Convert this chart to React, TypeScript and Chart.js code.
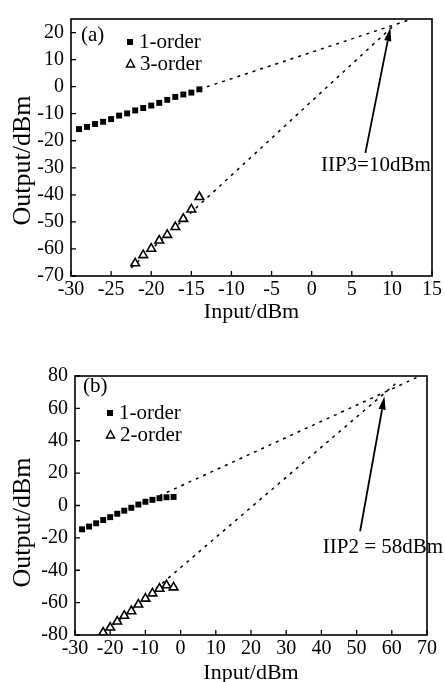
import React, { useEffect, useRef } from "react";
import { Chart, registerables } from "chart.js";

Chart.register(...registerables);

const FONT = "'Liberation Serif', 'Times New Roman', serif";

// ---------- Panel (a) ----------
const aOrder1X = [-29, -28, -27, -26, -25, -24, -23, -22, -21, -20, -19, -18, -17, -16, -15, -14];
const aOrder1Y = [-15.7, -14.9, -13.8, -13.0, -12.0, -10.7, -9.9, -8.8, -7.9, -7.0, -6.0, -4.9, -3.8, -2.9, -2.2, -1.0];
const aOrder3X = [-22, -21, -20, -19, -18, -17, -16, -15, -14];
const aOrder3Y = [-65.3, -62.3, -59.9, -56.9, -54.8, -51.9, -48.9, -45.4, -40.8];
const aFit1X = [-14, 12];
const aFit1Y = [-1, 24.5];
const aFit3X = [-22.5, 10];
const aFit3Y = [-67, 22];
const aXTicks = [-30, -25, -20, -15, -10, -5, 0, 5, 10, 15];
const aYTicks = [-70, -60, -50, -40, -30, -20, -10, 0, 10, 20];
const aArrowX = [6.7, 9.8];
const aArrowY = [-24.5, 21.7];
const aNoteXY = [8.0, -29.1];
const aNote = "IIP3=10dBm";
const aLegend = ["1-order", "3-order"];

// ---------- Panel (b) ----------
const bOrder1X = [-28, -26, -24, -22, -20, -18, -16, -14, -12, -10, -8, -6, -4, -2];
const bOrder1Y = [-14.7, -13.0, -11.0, -9.0, -7.2, -5.1, -3.2, -1.4, 0.6, 2.3, 3.5, 4.5, 5.1, 5.3];
const bOrder2X = [-22, -20, -18, -16, -14, -12, -10, -8, -6, -4, -2];
const bOrder2Y = [-78.5, -75.4, -71.7, -68.1, -65.3, -61.2, -57.5, -54.3, -51.4, -49.3, -50.6];
const bFit1X = [-6, 67];
const bFit1Y = [6, 79];
const bFit2X = [-22.5, 61];
const bFit2Y = [-80.2, 75.1];
const bXTicks = [-30, -20, -10, 0, 10, 20, 30, 40, 50, 60, 70];
const bYTicks = [-80, -60, -40, -20, 0, 20, 40, 60, 80];
const bArrowX = [51.0, 57.9];
const bArrowY = [-15.9, 67.3];
const bNoteXY = [57.5, -25.7];
const bNote = "IIP2 = 58dBm";
const bLegend = ["1-order", "2-order"];

const pts = (xs: number[], ys: number[]) => xs.map((v, i) => ({ x: v, y: ys[i] }));

type PanelCfg = {
  label: string;
  xMin: number; xMax: number; yMin: number; yMax: number;
  xTicks: number[]; yTicks: number[];
  sq: { x: number; y: number }[];
  tri: { x: number; y: number }[];
  fit1: { x: number; y: number }[];
  fitN: { x: number; y: number }[];
  arrowX: number[]; arrowY: number[];
  noteXY: number[]; note: string;
  legend: string[];
  height: number;
  pad: { top: number; right: number };
  yWidth: number; xHeight: number;
  labelOff: [number, number];
  legendOff: [number, number];
  yTitleShift: number;
  xTitleDy: number;
  xTickPad: number;
};

function makeDecor(c: PanelCfg) {
  return {
    id: "decor",
    afterDraw(chart: any) {
      const ctx = chart.ctx as CanvasRenderingContext2D;
      const a = chart.chartArea;
      const xs = chart.scales.x;
      const ys = chart.scales.y;
      ctx.save();
      ctx.strokeStyle = "#000";
      ctx.fillStyle = "#000";
      ctx.lineWidth = 1.6;
      ctx.setLineDash([]);
      ctx.strokeRect(a.left, a.top, a.right - a.left, a.bottom - a.top);
      ctx.lineWidth = 1.3;
      ctx.beginPath();
      c.xTicks.forEach((v) => {
        const px = xs.getPixelForValue(v);
        ctx.moveTo(px, a.bottom);
        ctx.lineTo(px, a.bottom - 5);
      });
      c.yTicks.forEach((v) => {
        const py = ys.getPixelForValue(v);
        ctx.moveTo(a.left, py);
        ctx.lineTo(a.left + 5, py);
      });
      ctx.stroke();

      // panel label
      ctx.font = `21px ${FONT}`;
      ctx.textAlign = "left";
      ctx.textBaseline = "middle";
      ctx.fillText(c.label, a.left + c.labelOff[0], a.top + c.labelOff[1]);

      // legend
      const lx = a.left + c.legendOff[0];
      const ly = a.top + c.legendOff[1];
      ctx.fillRect(lx - 3, ly - 3, 6, 6);
      ctx.fillText(c.legend[0], lx + 9, ly);
      const ty = ly + 22;
      ctx.lineWidth = 1.5;
      ctx.beginPath();
      ctx.moveTo(lx + 0.5, ty - 4.5);
      ctx.lineTo(lx + 4.5, ty + 3);
      ctx.lineTo(lx - 3.5, ty + 3);
      ctx.closePath();
      ctx.stroke();
      ctx.fillText(c.legend[1], lx + 10, ty);

      // annotation text
      ctx.textAlign = "center";
      ctx.fillText(c.note, xs.getPixelForValue(c.noteXY[0]), ys.getPixelForValue(c.noteXY[1]));

      // arrow
      const x0 = xs.getPixelForValue(c.arrowX[0]);
      const y0 = ys.getPixelForValue(c.arrowY[0]);
      const x1 = xs.getPixelForValue(c.arrowX[1]);
      const y1 = ys.getPixelForValue(c.arrowY[1]);
      const ang = Math.atan2(y1 - y0, x1 - x0);
      const hl = 13, hw = 3.6;
      const bx = x1 - hl * Math.cos(ang);
      const by = y1 - hl * Math.sin(ang);
      ctx.lineWidth = 1.8;
      ctx.beginPath();
      ctx.moveTo(x0, y0);
      ctx.lineTo(bx, by);
      ctx.stroke();
      ctx.beginPath();
      ctx.moveTo(x1, y1);
      ctx.lineTo(bx + hw * Math.sin(ang), by - hw * Math.cos(ang));
      ctx.lineTo(bx - hw * Math.sin(ang), by + hw * Math.cos(ang));
      ctx.closePath();
      ctx.fill();

      // axis titles
      ctx.font = `22px ${FONT}`;
      ctx.textAlign = "center";
      ctx.textBaseline = "middle";
      ctx.fillText("Input/dBm", (a.left + a.right) / 2, a.bottom + c.xTitleDy);
      ctx.save();
      ctx.font = `26px ${FONT}`;
      ctx.translate(23, (a.top + a.bottom) / 2 + c.yTitleShift);
      ctx.rotate(-Math.PI / 2);
      ctx.fillText("Output/dBm", 0, 0);
      ctx.restore();
      ctx.restore();
    },
  };
}

function Panel({ c }: { c: PanelCfg }) {
  const ref = useRef<HTMLCanvasElement>(null);
  useEffect(() => {
    if (!ref.current) return;
    const chart = new Chart(ref.current, {
      type: "scatter",
      data: {
        datasets: [
          {
            data: c.sq,
            pointStyle: "rect",
            pointRadius: 4.2,
            backgroundColor: "#000",
            borderColor: "#000",
            borderWidth: 0,
            showLine: false,
          },
          {
            data: c.tri,
            pointStyle: "triangle",
            pointRadius: 5,
            backgroundColor: "#fff",
            borderColor: "#000",
            borderWidth: 1.6,
            showLine: false,
          },
          {
            data: c.fit1,
            showLine: true,
            pointRadius: 0,
            borderColor: "#000",
            borderWidth: 1.5,
            borderDash: [3, 5],
          },
          {
            data: c.fitN,
            showLine: true,
            pointRadius: 0,
            borderColor: "#000",
            borderWidth: 1.5,
            borderDash: [3, 5],
          },
        ],
      } as any,
      options: {
        animation: false,
        responsive: false,
        events: [],
        layout: { padding: { top: c.pad.top, right: c.pad.right, left: 0, bottom: 0 } },
        plugins: { legend: { display: false }, tooltip: { enabled: false } },
        scales: {
          x: {
            type: "linear",
            min: c.xMin,
            max: c.xMax,
            afterBuildTicks: (s: any) => {
              s.ticks = c.xTicks.map((v) => ({ value: v }));
            },
            afterFit: (s: any) => {
              s.height = c.xHeight;
            },
            grid: { display: false, drawTicks: false },
            border: { display: false },
            ticks: {
              color: "#000",
              font: { family: FONT, size: 20 },
              padding: c.xTickPad,
              maxRotation: 0,
              autoSkip: false,
              callback: (v: any) => String(v),
            },
          },
          y: {
            type: "linear",
            min: c.yMin,
            max: c.yMax,
            afterBuildTicks: (s: any) => {
              s.ticks = c.yTicks.map((v) => ({ value: v }));
            },
            afterFit: (s: any) => {
              s.width = c.yWidth;
            },
            grid: { display: false, drawTicks: false },
            border: { display: false },
            ticks: {
              color: "#000",
              font: { family: FONT, size: 20 },
              padding: 7,
              autoSkip: false,
              callback: (v: any) => String(v),
            },
          },
        },
      } as any,
      plugins: [makeDecor(c)],
    });
    return () => chart.destroy();
  }, [c]);
  return <canvas ref={ref} width={445} height={c.height} style={{ display: "block", width: 445, height: c.height }} />;
}

const cfgA: PanelCfg = {
  label: "(a)",
  xMin: -30, xMax: 15, yMin: -70, yMax: 25,
  xTicks: aXTicks, yTicks: aYTicks,
  sq: pts(aOrder1X, aOrder1Y),
  tri: pts(aOrder3X, aOrder3Y),
  fit1: pts(aFit1X, aFit1Y),
  fitN: pts(aFit3X, aFit3Y),
  arrowX: aArrowX, arrowY: aArrowY,
  noteXY: aNoteXY, note: aNote,
  legend: aLegend,
  height: 340,
  pad: { top: 9, right: 13 },
  yWidth: 71, xHeight: 64,
  labelOff: [10, 16],
  legendOff: [59, 23],
  yTitleShift: 13,
  xTitleDy: 36,
  xTickPad: 2,
};

const cfgB: PanelCfg = {
  label: "(b)",
  xMin: -30, xMax: 70, yMin: -80, yMax: 80,
  xTicks: bXTicks, yTicks: bYTicks,
  sq: pts(bOrder1X, bOrder1Y),
  tri: pts(bOrder2X, bOrder2Y),
  fit1: pts(bFit1X, bFit1Y),
  fitN: pts(bFit2X, bFit2Y),
  arrowX: bArrowX, arrowY: bArrowY,
  noteXY: bNoteXY, note: bNote,
  legend: bLegend,
  height: 342,
  pad: { top: 36, right: 18 },
  yWidth: 75, xHeight: 47,
  labelOff: [8, 10],
  legendOff: [35, 37],
  yTitleShift: 17,
  xTitleDy: 38,
  xTickPad: 2,
};

export default function App() {
  return (
    <div style={{ position: "absolute", left: 0, top: 0, width: 445, height: 682, background: "#fff" }}>
      <Panel c={cfgA} />
      <Panel c={cfgB} />
    </div>
  );
}
